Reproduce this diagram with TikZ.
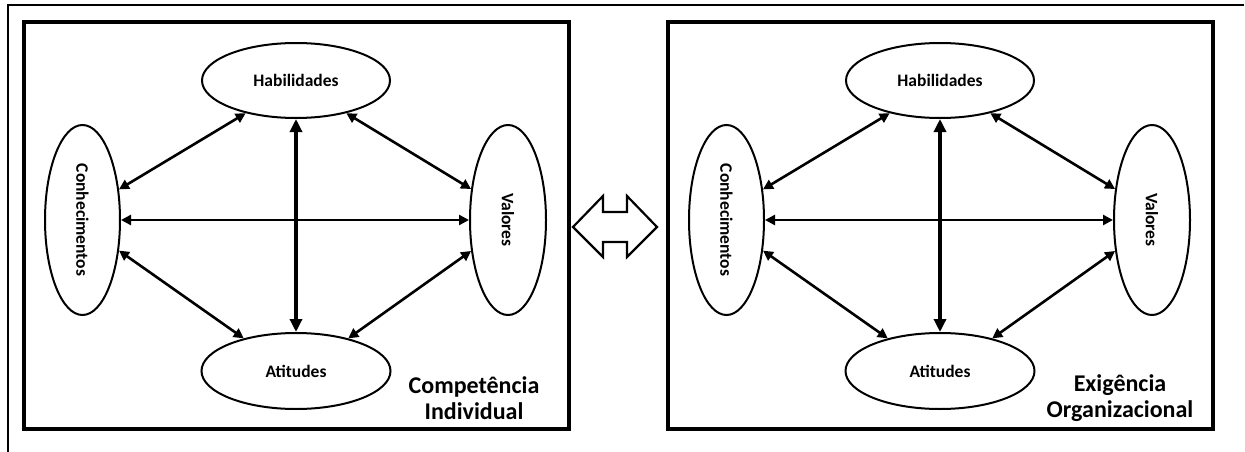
\documentclass[tikz,border=0pt]{standalone}
\usepackage{fontspec}
\setmainfont{Carlito}
\usetikzlibrary{shapes.geometric,arrows.meta}
\tikzset{
  bubble/.style={draw,ellipse,line width=2pt,inner sep=0pt,font=\fontsize{17.5}{20}\selectfont\bfseries},
  panelbox/.style={draw,line width=3.4pt},
  link/.style={line width=2.6pt,{Triangle[length=10pt,width=10pt]}-{Triangle[length=10pt,width=10pt]}},
  hlink/.style={line width=2.8pt,{Triangle[length=10pt,width=10pt]}-{Triangle[length=10pt,width=10pt]}},
  vlink/.style={line width=3.8pt,{Triangle[length=13pt,width=12pt]}-{Triangle[length=13pt,width=12pt]}},
  caption/.style={align=center,font=\fontsize{24}{26}\selectfont\bfseries},
  frame/.style={line width=1.6pt},
  swap/.style={line width=2.2pt,line join=miter},
  panel/.pic={
    \draw[panelbox] (24,22) rectangle (569,429);
    \node[bubble,minimum width=188pt,minimum height=75pt] (-hab) at (296,80.5) {Habilidades};
    \node[bubble,minimum width=189pt,minimum height=76pt] (-att) at (296,371) {Atitudes};
    \node[bubble,minimum width=75pt,minimum height=190pt] (-con) at (82.5,220) {\rotatebox{-90}{Conhecimentos}};
    \node[bubble,minimum width=76pt,minimum height=190pt] (-val) at (508,220) {\rotatebox{-90}{Valores}};
    \draw[link] (-con.40) -- (-hab.213);
    \draw[link] (-val.140) -- (-hab.327);
    \draw[link] (-con.-40) -- (-att.148);
    \draw[link] (-val.220) -- (-att.32);
    \draw[hlink] (-con.east) -- (-val.west);
    \draw[vlink] (-hab.south) -- (-att.north);
  }
}
\begin{document}
\begin{tikzpicture}[x=1pt,y=-1pt]
  \useasboundingbox (0,0) rectangle (1245,452);
  \fill[white] (0,0) rectangle (1245,452);
  \draw[frame] (1244,5) -- (8,5) -- (8,452);
  \pic (L) at (0,0) {panel};
  \pic (R) at (644,0) {panel};
  \node[caption] (capL) at (474,398) {Competência\\Individual};
  \node[caption] (capR) at (1120,398) {Exigência\\Organizacional};
  \draw[swap] (573,227) -- (603,196) -- (603,212) -- (627,212) -- (627,196) -- (657,227)
    -- (627,257) -- (627,242) -- (603,242) -- (603,257) -- cycle;
\end{tikzpicture}
\end{document}
